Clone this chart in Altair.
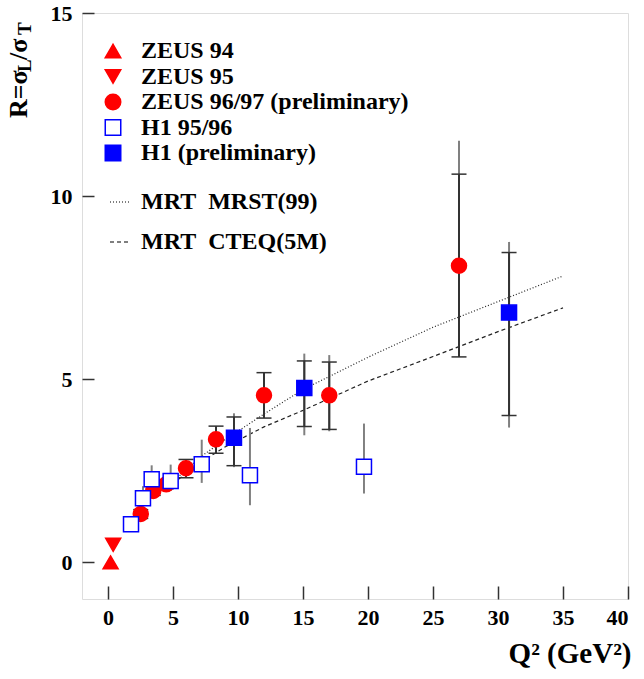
import altair as alt
import pandas as pd

# ---------------- data ----------------
series_names = ["ZEUS 94", "ZEUS 95", "ZEUS 96/97 (preliminary)", "H1 95/96", "H1 (preliminary)"]

zeus94_q2 = [0.2]
zeus94_r = [0.0]

zeus95_q2 = [0.4]
zeus95_r = [0.48]

zeus9697_q2 = [2.52, 3.48, 4.48, 6.0, 8.31, 12.0, 17.02, 27.0]
zeus9697_r = [1.32, 1.95, 2.13, 2.57, 3.36, 4.56, 4.56, 8.10]
zeus9697_stat_lo = [1.20, 1.83, 2.01, 2.31, 2.98, 3.94, 3.63, 5.61]
zeus9697_stat_hi = [1.44, 2.07, 2.25, 2.81, 3.72, 5.18, 5.47, 10.60]
zeus9697_tot_lo = [1.20, 1.83, 2.01, 2.31, 2.98, 3.94, 3.58, 5.61]
zeus9697_tot_hi = [1.44, 2.07, 2.25, 2.81, 3.72, 5.18, 5.66, 11.51]

h1_9596_q2 = [1.77, 2.69, 3.36, 4.82, 7.21, 10.92, 19.69]
h1_9596_r = [1.04, 1.75, 2.27, 2.22, 2.68, 2.38, 2.61]
h1_9596_lo = [0.92, 1.55, 2.00, 1.95, 2.17, 1.56, 1.88]
h1_9596_hi = [1.16, 2.08, 2.65, 2.67, 3.35, 3.67, 3.79]

h1_prel_q2 = [9.69, 15.1, 30.85]
h1_prel_r = [3.40, 4.76, 6.82]
h1_prel_stat_lo = [2.64, 3.71, 4.01]
h1_prel_stat_hi = [3.97, 5.50, 8.46]
h1_prel_tot_lo = [2.60, 3.47, 3.68]
h1_prel_tot_hi = [4.07, 5.70, 8.75]

model_names = ["MRT\u00a0\u00a0MRST(99)", "MRT\u00a0\u00a0CTEQ(5M)"]
mrst_q2 = [5, 7, 9, 12, 15, 20, 25, 30, 35]
mrst_r = [2.2, 2.85, 3.35, 4.05, 4.72, 5.6, 6.42, 7.12, 7.82]
cteq_q2 = [5, 7, 9, 12, 15, 20, 25, 30, 35]
cteq_r = [2.15, 2.7, 3.15, 3.7, 4.15, 4.95, 5.62, 6.3, 6.95]

x_ticks = [0, 5, 10, 15, 20, 25, 30, 35, 40]
y_ticks = [0, 5, 10, 15]
ytitle_parts = ["R=\u03c3", "L", "/\u03c3", "T"]
xtitle = "Q\u00b2 (GeV\u00b2)"

# ---------------- tables ----------------
pts = pd.concat([
    pd.DataFrame({"q2": zeus94_q2, "r": zeus94_r, "series": series_names[0]}),
    pd.DataFrame({"q2": zeus95_q2, "r": zeus95_r, "series": series_names[1]}),
    pd.DataFrame({"q2": zeus9697_q2, "r": zeus9697_r, "series": series_names[2]}),
    pd.DataFrame({"q2": h1_9596_q2, "r": h1_9596_r, "series": series_names[3]}),
    pd.DataFrame({"q2": h1_prel_q2, "r": h1_prel_r, "series": series_names[4]}),
], ignore_index=True)

h1_err = pd.DataFrame({"q2": h1_9596_q2, "lo": h1_9596_lo, "hi": h1_9596_hi})
tot_err = pd.concat([
    pd.DataFrame({"q2": zeus9697_q2, "lo": zeus9697_tot_lo, "hi": zeus9697_tot_hi}),
    pd.DataFrame({"q2": h1_prel_q2, "lo": h1_prel_tot_lo, "hi": h1_prel_tot_hi}),
], ignore_index=True)
stat_err = pd.concat([
    pd.DataFrame({"q2": zeus9697_q2, "lo": zeus9697_stat_lo, "hi": zeus9697_stat_hi}),
    pd.DataFrame({"q2": h1_prel_q2, "lo": h1_prel_stat_lo, "hi": h1_prel_stat_hi}),
], ignore_index=True)
caps = pd.concat([
    stat_err[["q2", "lo"]].rename(columns={"lo": "v"}),
    stat_err[["q2", "hi"]].rename(columns={"hi": "v"}),
], ignore_index=True)

curves = pd.concat([
    pd.DataFrame({"q2": mrst_q2, "r": mrst_r, "model": model_names[0]}),
    pd.DataFrame({"q2": cteq_q2, "r": cteq_r, "model": model_names[1]}),
], ignore_index=True)

# ---------------- scales / axes ----------------
FONT = "Liberation Serif"
W, H = 546, 586

xscale = alt.Scale(domain=[-2, 40], nice=False, zero=False)
yscale = alt.Scale(domain=[-1, 15], nice=False, zero=False)

xaxis = alt.Axis(values=x_ticks, offset=-13, tickSize=13, tickColor="#333", tickWidth=1.5,
                 domain=False, grid=False, labelPadding=8, labelFont=FONT, labelFontWeight="bold",
                 labelFontSize=22, labelColor="black", title=xtitle, titleFont=FONT,
                 titleFontWeight="bold", titleFontSize=29, titleColor="black",
                 titleAlign="right", titleBaseline="alphabetic", titleX=549, titleY=76)
yaxis = alt.Axis(values=y_ticks, offset=-12, tickSize=12, tickColor="#333", tickWidth=1.5,
                 domain=False, grid=False, labelPadding=10, labelFont=FONT, labelFontWeight="bold",
                 labelFontSize=22, labelColor="black", title=None)

X = alt.X("q2:Q", scale=xscale, axis=xaxis)


def Y(field):
    return alt.Y(field, type="quantitative", scale=yscale, axis=yaxis)


# ---------------- layers ----------------
line_legend = alt.Legend(title=None, orient="none", legendX=26, legendY=177, symbolType="stroke",
                         symbolSize=400, symbolStrokeWidth=1.2, symbolStrokeColor="black",
                         labelFont=FONT, labelFontWeight="bold", labelFontSize=24, labelColor="black",
                         labelLimit=600, labelOffset=9, rowPadding=16, padding=0)
lines = alt.Chart(curves).mark_line(color="#222", strokeWidth=1.2).encode(
    x=X, y=Y("r"),
    strokeDash=alt.StrokeDash("model:N", scale=alt.Scale(domain=model_names, range=[[1, 2], [4, 3]]),
                              legend=line_legend),
)

h1_bars = alt.Chart(h1_err).mark_rule(color="#808080", strokeWidth=2).encode(x=X, y=Y("lo"), y2="hi")
tot_bars = alt.Chart(tot_err).mark_rule(color="#808080", strokeWidth=2).encode(x=X, y=Y("lo"), y2="hi")
stat_bars = alt.Chart(stat_err).mark_rule(color="#333", strokeWidth=2).encode(x=X, y=Y("lo"), y2="hi")
cap_marks = alt.Chart(caps).mark_rule(color="#333", strokeWidth=1.5, xOffset=-7.5, x2Offset=7.5).encode(
    x=X, x2="q2", y=Y("v"))

pt_legend = alt.Legend(title=None, orient="none", legendX=19, legendY=26, symbolSize=240,
                       symbolStrokeWidth=1.5, labelFont=FONT, labelFontWeight="bold",
                       labelFontSize=24, labelColor="black", labelLimit=600, labelOffset=16,
                       rowPadding=1.5, padding=0)
points = alt.Chart(pts).mark_point(size=225, strokeWidth=1.5, opacity=1).encode(
    x=X, y=Y("r"),
    shape=alt.Shape("series:N", scale=alt.Scale(domain=series_names,
                    range=["triangle-up", "triangle-down", "circle", "square", "square"]), legend=pt_legend),
    fill=alt.Fill("series:N", scale=alt.Scale(domain=series_names,
                  range=["#ff0000", "#ff0000", "#ff0000", "white", "#0000ff"]), legend=pt_legend),
    stroke=alt.Stroke("series:N", scale=alt.Scale(domain=series_names,
                      range=["#ff0000", "#ff0000", "#ff0000", "#0000ff", "#0000ff"]), legend=pt_legend),
)


def ytitle_piece(txt, px, py, size):
    return alt.Chart(pd.DataFrame({"t": [txt]})).mark_text(
        angle=270, align="left", baseline="alphabetic", font=FONT, fontWeight="bold",
        fontSize=size, color="black").encode(text="t:N", x=alt.value(px), y=alt.value(py))


titles = [
    ytitle_piece(ytitle_parts[0], -55, 105, 26),
    ytitle_piece(ytitle_parts[1], -51, 59, 19),
    ytitle_piece(ytitle_parts[2], -55, 47, 26),
    ytitle_piece(ytitle_parts[3], -51, 22, 19),
]

chart = alt.layer(lines, h1_bars, tot_bars, stat_bars, cap_marks, points, *titles).properties(
    width=W, height=H,
    autosize=alt.AutoSizeParams(type="none"),
    padding={"left": 82, "top": 13, "right": 16, "bottom": 80},
).configure_view(
    stroke="#333", strokeWidth=2
).configure(
    background="white", font=FONT
).configure_legend(
    labelFont=FONT, labelFontWeight="bold", labelLimit=600
).configure_axis(
    labelFont=FONT, titleFont=FONT
)

chart.save("out.html", embed_options={"renderer": "svg", "actions": False})
